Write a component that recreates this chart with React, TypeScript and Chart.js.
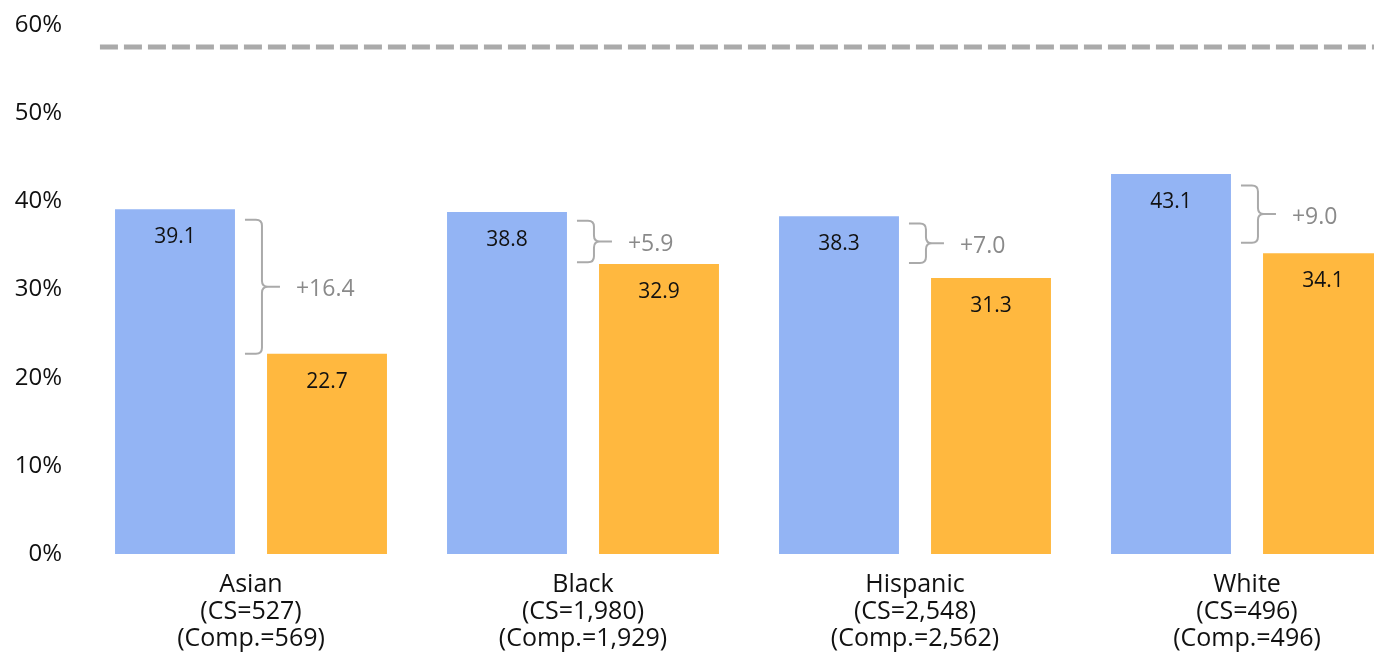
import { useEffect, useRef } from "react";
import { Chart, registerables } from "chart.js";

Chart.register(...registerables);

// Groups shown along the x axis, with their sample sizes
const categories = ["Asian", "Black", "Hispanic", "White"];
const csCounts = ["527", "1,980", "2,548", "496"];
const compCounts = ["569", "1,929", "2,562", "496"];

// Rates (%) for each group
const csRates = [39.1, 38.8, 38.3, 43.1];
const compRates = [22.7, 32.9, 31.3, 34.1];

// Reference level drawn as a dashed line
const benchmarkRate = 57.5;

// Extent (in %) of the brace that marks each gap
const braceTop = [37.9, 37.8, 37.5, 41.8];
const braceBottom = [22.7, 33.1, 33.0, 35.3];

const yMax = 60;
const yStep = 10;

const FONT = "'Open Sans', 'Noto Sans', sans-serif";
const BLUE = "#93b4f4";
const ORANGE = "#ffb83f";
const GREY_LINE = "#aaaaaa";

const annotations = {
  id: "annotations",
  afterDatasetsDraw(chart: any) {
    const { ctx, chartArea, scales } = chart;
    const xs = scales.x;
    const ys = scales.y;

    // dashed benchmark line
    const yb = ys.getPixelForValue(benchmarkRate);
    ctx.save();
    ctx.strokeStyle = GREY_LINE;
    ctx.lineWidth = 5;
    ctx.setLineDash([18, 6]);
    ctx.beginPath();
    ctx.moveTo(xs.getPixelForValue(-0.455), yb);
    ctx.lineTo(chartArea.right, yb);
    ctx.stroke();
    ctx.restore();

    // value labels inside the top of each bar
    ctx.save();
    ctx.font = `21px ${FONT}`;
    ctx.fillStyle = "#111111";
    ctx.textAlign = "center";
    ctx.textBaseline = "middle";
    chart.data.datasets.forEach((ds: any, di: number) => {
      const meta = chart.getDatasetMeta(di);
      meta.data.forEach((bar: any, i: number) => {
        ctx.fillText(ds.data[i].toFixed(1), bar.x, bar.y + 28);
      });
    });
    ctx.restore();

    // braces with the gap between the two rates
    const blueBars = chart.getDatasetMeta(0).data;
    ctx.save();
    ctx.strokeStyle = GREY_LINE;
    ctx.lineWidth = 2;
    ctx.fillStyle = "#8a8a8a";
    ctx.font = `23px ${FONT}`;
    ctx.textAlign = "left";
    ctx.textBaseline = "middle";
    blueBars.forEach((bar: any, i: number) => {
      const x0 = bar.x + bar.width / 2 + 10;
      const spine = x0 + 17;
      const tip = x0 + 35;
      const r = 6;
      const yt = ys.getPixelForValue(braceTop[i]);
      const yBot = ys.getPixelForValue(braceBottom[i]);
      const mid = (yt + yBot) / 2;
      ctx.beginPath();
      ctx.moveTo(x0, yt);
      ctx.lineTo(spine - r, yt);
      ctx.quadraticCurveTo(spine, yt, spine, yt + r);
      ctx.lineTo(spine, mid - r);
      ctx.quadraticCurveTo(spine, mid, spine + r, mid);
      ctx.lineTo(tip, mid);
      ctx.moveTo(spine + r, mid);
      ctx.quadraticCurveTo(spine, mid, spine, mid + r);
      ctx.lineTo(spine, yBot - r);
      ctx.quadraticCurveTo(spine, yBot, spine - r, yBot);
      ctx.lineTo(x0, yBot);
      ctx.stroke();
      const gap = (csRates[i] - compRates[i]).toFixed(1);
      ctx.fillText(`+${gap}`, tip + 16, mid + 3);
    });
    ctx.restore();
  },
};

export default function App() {
  const canvasRef = useRef<HTMLCanvasElement | null>(null);

  useEffect(() => {
    if (!canvasRef.current) return;
    const chart = new Chart(canvasRef.current, {
      type: "bar",
      data: {
        labels: categories.map((c, i) => [c, `(CS=${csCounts[i]})`, `(Comp.=${compCounts[i]})`]),
        datasets: [
          {
            label: "CS",
            data: csRates,
            backgroundColor: BLUE,
            categoryPercentage: 0.9157,
            barPercentage: 0.789,
          },
          {
            label: "Comp.",
            data: compRates,
            backgroundColor: ORANGE,
            categoryPercentage: 0.9157,
            barPercentage: 0.789,
          },
        ],
      },
      options: {
        responsive: false,
        animation: false,
        layout: { padding: { top: 25, left: 0, right: 0, bottom: 0 } },
        plugins: {
          legend: { display: false },
          tooltip: { enabled: false },
        },
        scales: {
          x: {
            grid: { display: false, drawTicks: false },
            border: { display: false },
            ticks: {
              padding: 17.6,
              color: "#111111",
              font: { family: FONT, size: 25, lineHeight: 1.07 },
              maxRotation: 0,
              autoSkip: false,
            },
            afterFit: (s: any) => {
              s.height = 102;
              s.paddingLeft = 0;
              s.paddingRight = 0;
            },
          },
          y: {
            min: 0,
            max: yMax,
            grid: { display: false, drawTicks: false },
            border: { display: false },
            ticks: {
              stepSize: yStep,
              padding: 23,
              color: "#111111",
              font: { family: FONT, size: 24 },
              callback: (v: any) => `${v}%`,
            },
            afterFit: (s: any) => {
              s.width = 85;
              s.paddingTop = 0;
              s.paddingBottom = 0;
            },
          },
        },
      },
      plugins: [annotations],
    });
    return () => chart.destroy();
  }, []);

  return (
    <div
      style={{
        position: "fixed",
        left: 0,
        top: 0,
        width: 1374,
        height: 656,
        overflow: "hidden",
        background: "#ffffff",
      }}
    >
      <canvas ref={canvasRef} width={1413} height={656} style={{ display: "block" }} />
    </div>
  );
}
